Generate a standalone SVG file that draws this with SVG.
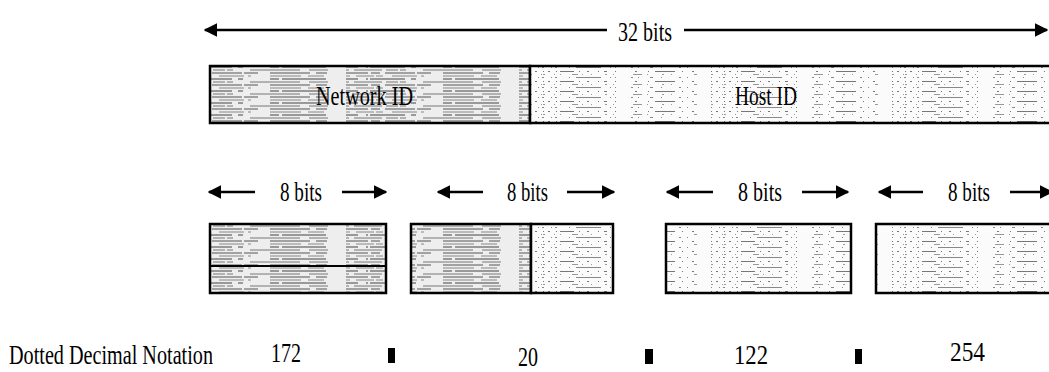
<svg xmlns="http://www.w3.org/2000/svg" width="1049" height="372" viewBox="0 0 1049 372">
<style>
  .t { font-family: "Liberation Serif", "DejaVu Serif", serif; font-size: 27px; fill: #000; }
  .ln { stroke: #000; stroke-width: 2.5; fill: none; }
  .box { stroke: #000; stroke-width: 2.5; }
  .div { stroke: #000; stroke-width: 2; }
</style>
<defs>
  <marker id="ah" viewBox="0 0 10 10" refX="9" refY="5" markerWidth="5.5" markerHeight="5.5" orient="auto-start-reverse">
    <path d="M0,0 L10,5 L0,10 z" fill="#000"/>
  </marker>
  <pattern id="net" width="173" height="12" patternUnits="userSpaceOnUse">
    <rect width="173" height="12" fill="#eeeeee"/>
    <line x1="0" y1="1" x2="173" y2="1" stroke="#555" stroke-width="1" stroke-dasharray="22 3 9 5 30 2 14 12 40 6 11 19"/>
    <line x1="0" y1="4" x2="173" y2="4" stroke="#888" stroke-width="1" stroke-dasharray="4 6 18 2 7 9 25 4 3 19 31 7 16 22"/>
    <line x1="0" y1="7" x2="173" y2="7" stroke="#444" stroke-width="1" stroke-dasharray="12 8 2 2 35 6 5 27 9 3 44 20"/>
    <line x1="0" y1="10" x2="173" y2="10" stroke="#777" stroke-width="1" stroke-dasharray="3 5 28 4 12 2 6 17 50 9 19 18"/>
  </pattern>
  <pattern id="host" width="181" height="10" patternUnits="userSpaceOnUse">
    <rect width="181" height="10" fill="#fbfbfb"/>
    <line x1="0" y1="1.5" x2="181" y2="1.5" stroke="#777" stroke-width="1" stroke-dasharray="1 4 2 6 1 3 14 5 1 7 2 9 1 5 3 8 1 19 2 11 1 6 20 7 1 9 2 17"/>
    <line x1="0" y1="4.5" x2="181" y2="4.5" stroke="#999" stroke-width="1" stroke-dasharray="2 9 1 5 1 11 6 4 1 8 1 13 2 6 1 19 9 5 1 14 2 7 1 22 3 14"/>
    <line x1="0" y1="7.5" x2="181" y2="7.5" stroke="#888" stroke-width="1" stroke-dasharray="1 7 1 3 2 12 1 6 25 9 1 4 1 15 2 5 1 11 3 8 1 17 2 6 1 23"/>
  </pattern>
</defs>

<g id="connectors">
  <line class="ln" x1="607" y1="30" x2="205" y2="30" marker-end="url(#ah)"/>
  <line class="ln" x1="684" y1="30" x2="1047" y2="30" marker-end="url(#ah)"/>
  <line class="ln" x1="255" y1="192" x2="209" y2="192" marker-end="url(#ah)"/>
  <line class="ln" x1="342" y1="192" x2="386" y2="192" marker-end="url(#ah)"/>
  <line class="ln" x1="483" y1="192" x2="438" y2="192" marker-end="url(#ah)"/>
  <line class="ln" x1="567" y1="192" x2="614" y2="192" marker-end="url(#ah)"/>
  <line class="ln" x1="713" y1="192" x2="667" y2="192" marker-end="url(#ah)"/>
  <line class="ln" x1="802" y1="192" x2="848" y2="192" marker-end="url(#ah)"/>
  <line class="ln" x1="923" y1="192" x2="879" y2="192" marker-end="url(#ah)"/>
  <line class="ln" x1="1010" y1="192" x2="1052" y2="192" marker-end="url(#ah)"/>
</g>

<g id="label-32bits">
  <text class="t" x="618" y="41" textLength="54" lengthAdjust="spacingAndGlyphs">32 bits</text>
</g>

<g id="address">
  <rect x="210" y="66" width="320" height="57" fill="url(#net)" class="box"/>
  <rect x="530" y="66" width="525" height="57" fill="url(#host)" class="box"/>
  <text class="t" x="316" y="105" textLength="97" lengthAdjust="spacingAndGlyphs">Network ID</text>
  <text class="t" x="735" y="105" textLength="62" lengthAdjust="spacingAndGlyphs">Host ID</text>
</g>

<g id="labels-8bits">
  <text class="t" x="280" y="201" textLength="42" lengthAdjust="spacingAndGlyphs">8 bits</text>
  <text class="t" x="507" y="201" textLength="41" lengthAdjust="spacingAndGlyphs">8 bits</text>
  <text class="t" x="738" y="201" textLength="44" lengthAdjust="spacingAndGlyphs">8 bits</text>
  <text class="t" x="948" y="201" textLength="42" lengthAdjust="spacingAndGlyphs">8 bits</text>
</g>

<g id="octet1">
  <rect x="210" y="224" width="176" height="69" fill="url(#net)" class="box"/>
  <line class="div" x1="210" y1="266" x2="386" y2="266" stroke-width="1.2"/>
</g>
<g id="octet2">
  <rect x="411" y="224" width="120" height="69" fill="url(#net)" class="box"/>
  <rect x="531" y="224" width="82" height="69" fill="url(#host)" class="box"/>
</g>
<g id="octet3">
  <rect x="666" y="224" width="185" height="69" fill="url(#host)" class="box"/>
</g>
<g id="octet4">
  <rect x="876" y="224" width="185" height="69" fill="url(#host)" class="box"/>
</g>

<g id="dotted-decimal">
  <text class="t" x="9" y="364" font-size="24" textLength="204" lengthAdjust="spacingAndGlyphs">Dotted Decimal Notation</text>
  <text class="t" x="271" y="362" textLength="30" lengthAdjust="spacingAndGlyphs">172</text>
  <rect x="388" y="348" width="7" height="15" fill="#000"/>
  <text class="t" x="518" y="366" textLength="20" lengthAdjust="spacingAndGlyphs">20</text>
  <rect x="645" y="349" width="8" height="15" fill="#000"/>
  <text class="t" x="734" y="364" textLength="34" lengthAdjust="spacingAndGlyphs">122</text>
  <rect x="855" y="349" width="7" height="15" fill="#000"/>
  <text class="t" x="950" y="361" textLength="35" lengthAdjust="spacingAndGlyphs">254</text>
</g>
</svg>
